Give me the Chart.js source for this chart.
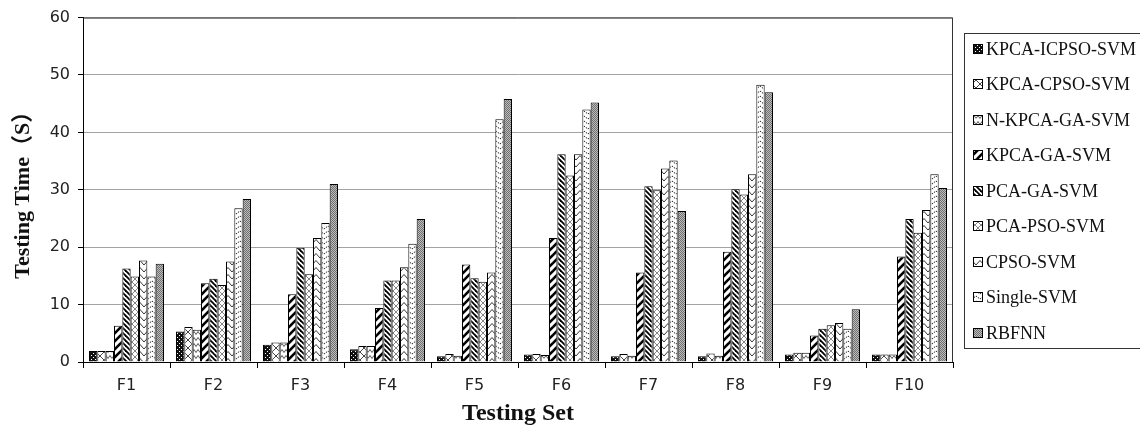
<!DOCTYPE html>
<html>
<head>
<meta charset="utf-8">
<script src="https://cdn.jsdelivr.net/npm/chart.js@4"></script>
<style>
  html, body { margin: 0; padding: 0; background: #fff; }
  #wrap { position: relative; width: 1140px; height: 427px; }
</style>
</head>
<body>
<div id="wrap"><canvas id="testChart" width="1140" height="427"></canvas></div>
<script>
// Testing time per method and testing set
const testingSets = ['F1', 'F2', 'F3', 'F4', 'F5', 'F6', 'F7', 'F8', 'F9', 'F10'];
const methodNames = ['KPCA-ICPSO-SVM', 'KPCA-CPSO-SVM', 'N-KPCA-GA-SVM', 'KPCA-GA-SVM',
    'PCA-GA-SVM', 'PCA-PSO-SVM', 'CPSO-SVM', 'Single-SVM', 'RBFNN'];

const kpcaIcpsoSvm = [1.9, 5.3, 3.0, 2.2, 1.0, 1.3, 1.0, 1.0, 1.3, 1.3];
const kpcaCpsoSvm  = [1.9, 6.1, 3.4, 2.8, 1.4, 1.4, 1.4, 1.5, 1.6, 1.3];
const nKpcaGaSvm   = [1.9, 5.6, 3.4, 2.8, 1.1, 1.2, 1.1, 1.1, 1.6, 1.3];
const kpcaGaSvm    = [6.3, 13.7, 11.8, 9.4, 17.0, 21.6, 15.6, 19.2, 4.6, 18.4];
const pcaGaSvm     = [16.3, 14.5, 19.9, 14.2, 14.6, 36.2, 30.6, 30.1, 5.8, 24.9];
const pcaPsoSvm    = [14.9, 13.4, 15.3, 14.2, 14.0, 32.5, 29.9, 29.2, 6.4, 22.5];
const cpsoSvm      = [17.7, 17.5, 21.6, 16.5, 15.6, 36.2, 33.7, 32.7, 6.8, 26.5];
const singleSvm    = [14.9, 26.8, 24.2, 20.6, 42.3, 44.0, 35.1, 48.3, 5.8, 32.7];
const rbfnn        = [17.1, 28.4, 31.0, 24.9, 45.8, 45.2, 26.3, 47.0, 9.2, 30.3];

const yTicks = [0, 10, 20, 30, 40, 50, 60];

// small tiles used as hatch fills
function tile(w, h, bg, draw) {
    const c = document.createElement('canvas');
    c.width = w; c.height = h;
    const g = c.getContext('2d');
    g.fillStyle = bg;
    g.fillRect(0, 0, w, h);
    draw(g);
    return g.createPattern(c, 'repeat');
}
function line(g, pts, color, width) {
    g.strokeStyle = color;
    g.lineWidth = width;
    g.beginPath();
    g.moveTo(pts[0][0], pts[0][1]);
    for (let i = 1; i < pts.length; i++) g.lineTo(pts[i][0], pts[i][1]);
    g.stroke();
}

const fills = [
    // dark with white dots
    tile(4, 4, '#111', g => { g.fillStyle = '#fff'; g.fillRect(1, 1, 1, 1); g.fillRect(3, 3, 1, 1); }),
    // thin diamond lattice
    tile(8, 8, '#fff', g => { line(g, [[0, 0], [8, 8]], '#333', 0.9); line(g, [[8, 0], [0, 8]], '#333', 0.9); }),
    // small zigzag
    tile(8, 6, '#fff', g => { line(g, [[0, 4.5], [2, 1.5], [4, 4.5], [6, 1.5], [8, 4.5]], '#444', 0.9); }),
    // wide forward stripes
    tile(8, 8, '#fff', g => {
        line(g, [[-2, 10], [10, -2]], '#000', 2.6);
        line(g, [[-6, 6], [6, -6]], '#000', 2.6);
        line(g, [[2, 14], [14, 2]], '#000', 2.6);
    }),
    // dense backward stripes
    tile(5, 5, '#fff', g => {
        line(g, [[-1, -1], [6, 6]], '#000', 1.8);
        line(g, [[-1, 4], [1, 6]], '#000', 1.8);
        line(g, [[4, -1], [6, 1]], '#000', 1.8);
    }),
    // light cross hatch
    tile(6, 6, '#fff', g => { line(g, [[0, 0], [6, 6]], '#666', 0.8); line(g, [[6, 0], [0, 6]], '#666', 0.8); }),
    // chevrons up
    tile(8, 7, '#fff', g => { line(g, [[0, 6], [4, 1.5], [8, 6]], '#222', 0.9); }),
    // chevrons down, dotted
    tile(8, 5, '#fff', g => { g.setLineDash([1.5, 1]); line(g, [[0, 1], [4, 4], [8, 1]], '#222', 1); }),
    // grey stipple
    tile(2, 2, '#bdbdbd', g => { g.fillStyle = '#6f6f6f'; g.fillRect(0, 0, 1, 1); g.fillRect(1, 1, 1, 1); })
];

const seriesValues = [kpcaIcpsoSvm, kpcaCpsoSvm, nKpcaGaSvm, kpcaGaSvm, pcaGaSvm,
    pcaPsoSvm, cpsoSvm, singleSvm, rbfnn];

const serif = "'Liberation Serif', 'Noto Sans CJK SC', serif";
const sans = "'DejaVu Sans', Verdana, sans-serif";

// frame round the plot area
const plotFrame = {
    id: 'plotFrame',
    afterDatasetsDraw(chart) {
        const { ctx, chartArea: a } = chart;
        ctx.save();
        ctx.strokeStyle = '#333';
        ctx.lineWidth = 1;
        ctx.beginPath();
        ctx.moveTo(a.left, a.top + 0.5);
        ctx.lineTo(a.right - 0.5, a.top + 0.5);
        ctx.lineTo(a.right - 0.5, a.bottom);
        ctx.stroke();
        ctx.restore();
    }
};

// boxed legend on the right
const boxLegend = {
    id: 'boxLegend',
    afterDraw(chart) {
        const { ctx, chartArea: a } = chart;
        const sets = chart.data.datasets;
        const rowH = 35.5;
        const boxH = 315;
        const cy = (a.top + a.bottom) / 2 + 1;
        const x0 = a.right + 11;
        const top = cy - boxH / 2;
        ctx.save();
        ctx.strokeStyle = '#333';
        ctx.lineWidth = 1;
        ctx.strokeRect(Math.round(x0) + 0.5, Math.round(top) + 0.5, 300, boxH);
        ctx.font = '18px ' + serif;
        ctx.textBaseline = 'middle';
        sets.forEach((ds, i) => {
            const y = Math.round(cy + (i - (sets.length - 1) / 2) * rowH);
            ctx.fillStyle = ds.backgroundColor;
            ctx.fillRect(x0 + 9, y - 5, 10, 10);
            ctx.strokeStyle = '#000';
            ctx.strokeRect(x0 + 9.5, y - 4.5, 9, 9);
            ctx.fillStyle = '#111';
            ctx.fillText(ds.label, x0 + 22, y + 1);
        });
        ctx.restore();
    }
};

document.addEventListener('DOMContentLoaded', () => {
    const ctx = document.getElementById('testChart');
    new Chart(ctx, {
        type: 'bar',
        data: {
            labels: testingSets,
            datasets: methodNames.map((name, i) => ({
                label: name,
                data: seriesValues[i],
                backgroundColor: fills[i],
                borderColor: '#000',
                borderWidth: 1,
                categoryPercentage: 0.862,
                barPercentage: 1.0
            }))
        },
        options: {
            responsive: false,
            animation: false,
            layout: { padding: { left: 0, top: 15, right: 187, bottom: 0 } },
            plugins: {
                legend: { display: false },
                tooltip: { enabled: false }
            },
            scales: {
                x: {
                    afterFit: s => { s.height = 65; },
                    grid: {
                        offset: true,
                        drawOnChartArea: false,
                        tickLength: 6,
                        tickColor: '#000'
                    },
                    border: { color: '#000', width: 1 },
                    ticks: {
                        color: '#222',
                        padding: 8,
                        font: { family: sans, size: 16 }
                    },
                    title: {
                        display: true,
                        text: 'Testing Set',
                        color: '#111',
                        padding: { top: 0, bottom: 1 },
                        font: { family: serif, size: 24, weight: 'bold', lineHeight: 1 }
                    }
                },
                y: {
                    min: yTicks[0],
                    max: yTicks[yTicks.length - 1],
                    afterFit: s => { s.width = 83; },
                    afterBuildTicks: s => { s.ticks = yTicks.map(v => ({ value: v })); },
                    grid: {
                        color: '#a3a3a3',
                        lineWidth: 1,
                        tickLength: 5,
                        tickColor: '#000'
                    },
                    border: { color: '#000', width: 1 },
                    ticks: {
                        color: '#222',
                        padding: 8,
                        font: { family: sans, size: 16 }
                    },
                    title: {
                        display: true,
                        text: 'Testing Time（S）',
                        color: '#111',
                        padding: { top: 10, bottom: 0 },
                        font: { family: serif, size: 22, weight: 'bold' }
                    }
                }
            }
        },
        plugins: [plotFrame, boxLegend]
    });
});
</script>
</body>
</html>
